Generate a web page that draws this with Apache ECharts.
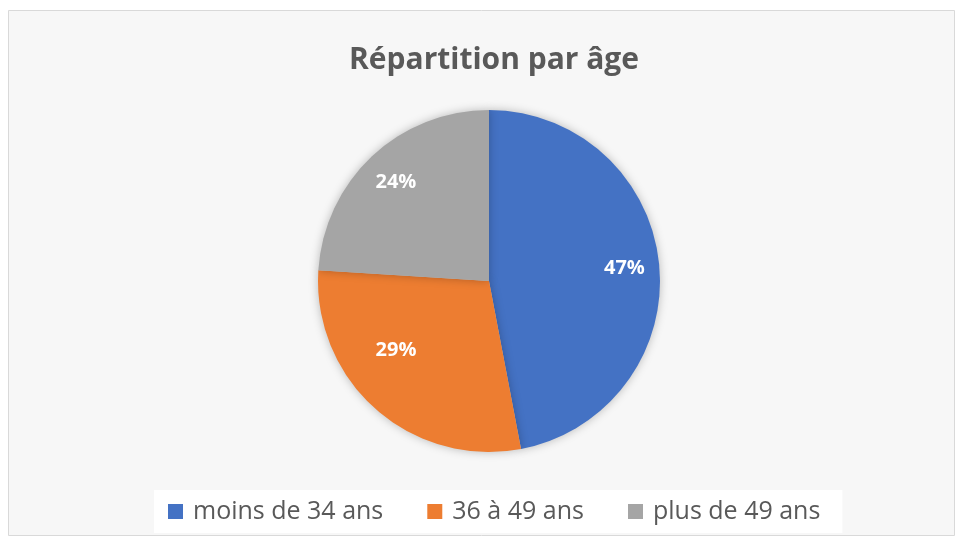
<!DOCTYPE html>
<html>
    <head>
        <meta charset="utf-8" />
        <title>Répartition par âge</title>
        <script src="https://cdn.jsdelivr.net/npm/echarts@6/dist/echarts.min.js"></script>
        <style>
            body { margin: 0; background: #ffffff; }
            #graphique { width: 963px; height: 544px; }
        </style>
    </head>
    <body>
        <div id="graphique"></div>
        <script>
            const categories = ["moins de 34 ans", "36 à 49 ans", "plus de 49 ans"];
            const pourcentages = [47, 29, 24];
            const couleurs = ["#4472C4", "#ED7D31", "#A5A5A5"];

            const police = "'Open Sans', 'Noto Sans', sans-serif";

            const donnees = categories.map(function (nom, i) {
                return {
                    name: nom,
                    value: pourcentages[i],
                    itemStyle: { color: couleurs[i] },
                };
            });

            // étiquettes placées plus loin du centre, comme dans Excel
            const etiquettes = categories.map(function (nom, i) {
                const d = { name: nom, value: pourcentages[i] };
                if (i === 1) d.label = { offset: [-3, -33] };
                return d;
            });

            const myChart = echarts.init(document.getElementById("graphique"));
            myChart.setOption({
                animation: false,
                backgroundColor: "#ffffff",
                graphic: [
                    {
                        type: "rect",
                        z: -10,
                        shape: { x: 8.5, y: 10.5, width: 946, height: 525 },
                        style: { fill: "#f7f7f7", stroke: "#d9d9d9", lineWidth: 1 },
                    },
                ],
                title: {
                    text: "Répartition par âge",
                    left: 344,
                    top: 40,
                    textStyle: {
                        fontFamily: police,
                        fontSize: 30,
                        fontWeight: "bold",
                        color: "#595959",
                    },
                },
                legend: {
                    data: categories,
                    bottom: 11,
                    left: 154,
                    icon: "rect",
                    itemWidth: 15,
                    itemHeight: 15,
                    itemGap: 44,
                    padding: [9, 22, 9, 14],
                    backgroundColor: "#ffffff",
                    textStyle: {
                        fontFamily: police,
                        fontSize: 25,
                        color: "#595959",
                        padding: [0, 0, 0, 5],
                    },
                },
                series: [
                    {
                        type: "pie",
                        center: [489, 281],
                        radius: [0, 171],
                        startAngle: 90,
                        clockwise: true,
                        data: donnees,
                        label: { show: false },
                        labelLine: { show: false },
                        itemStyle: {
                            shadowBlur: 10,
                            shadowColor: "rgba(0,0,0,0.25)",
                        },
                        emphasis: { disabled: true },
                    },
                    {
                        type: "pie",
                        center: [489, 281],
                        radius: [95, 171],
                        startAngle: 90,
                        clockwise: true,
                        silent: true,
                        data: etiquettes,
                        itemStyle: { color: "rgba(0,0,0,0)" },
                        labelLine: { show: false },
                        label: {
                            show: true,
                            position: "inside",
                            formatter: "{c}%",
                            fontFamily: police,
                            fontSize: 20,
                            fontWeight: "bold",
                            color: "#ffffff",
                        },
                        legendHoverLink: false,
                        emphasis: { disabled: true },
                    },
                ],
            });
        </script>
    </body>
</html>
